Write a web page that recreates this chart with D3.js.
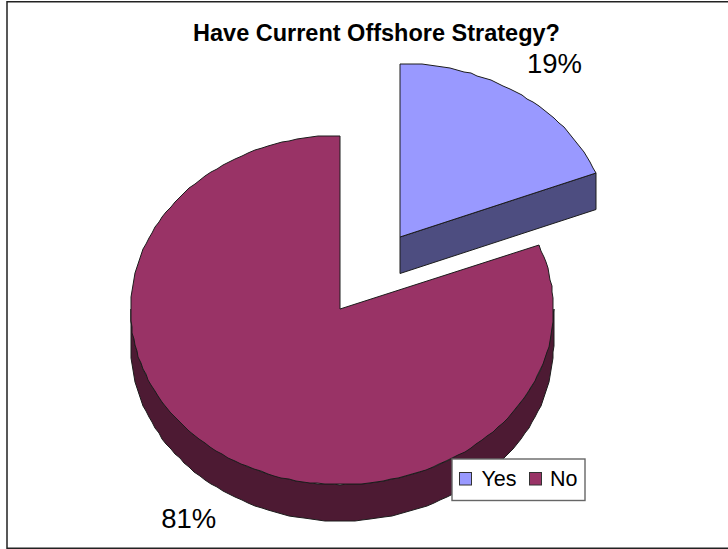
<!DOCTYPE html>
<html>
<head>
<meta charset="utf-8">
<script src="https://cdn.jsdelivr.net/npm/d3@7"></script>
<style>
html,body{margin:0;padding:0;background:#fff}
svg{display:block}
text{font-family:"Liberation Sans",Arial,sans-serif;fill:#000}
</style>
</head>
<body>
<svg id="chart" width="728" height="549"></svg>
<script>
const categories = ["Yes", "No"];
const shares = [19, 81];
const topColors = ["#9999ff", "#993366"];
const sideColors = ["#4d4d80", "#4d1a33"];
const chartTitle = "Have Current Offshore Strategy?";

const svg = d3.select("#chart");

// Frame: left, top and bottom rules run to the page edge
svg.append("path").attr("d", "M728,1.7H7V548.3H728")
  .attr("fill", "none").attr("stroke", "#222").attr("stroke-width", 1.5);

// Tilted-pie projection: clockwise angle from twelve o'clock onto a slightly
// uneven ellipse around each slice's apex
const vx = 340, vy = 309, depth = 36.5;
const offsets = [[60, -72], [0, 0]];
const rightReach = [211, 213.5];
const ey = d3.scaleLinear().domain([-1, 0, 1]).range([-173.5, 0, 175.5]);
const rimPoint = (a, i, dz = 0) => {
  const ex = d3.scaleLinear().domain([-1, 0, 1]).range([-209.5, 0, rightReach[i]]);
  return [
    Math.round(vx + offsets[i][0] + ex(Math.sin(a))),
    Math.round(vy + offsets[i][1] + ey(-Math.cos(a)) + dz)
  ];
};
const line = d3.line();
// Rim is a fine, pixel-snapped polyline
const arcSamples = (a0, a1, i, dz = 0) => {
  const n = Math.max(2, Math.ceil(Math.abs(a1 - a0) / 0.035));
  return d3.range(n + 1).map(k => rimPoint(a0 + (a1 - a0) * k / n, i, dz));
};

const slices = d3.pie().sort(null).value(d => d)(shares);
const edge = "#1c1c1c";

[1, 0].forEach(i => {
  const s = slices[i];
  const apex = [vx + offsets[i][0], vy + offsets[i][1]];
  const g = svg.append("g").attr("stroke", edge).attr("stroke-width", 1).attr("stroke-linejoin", "round");

  // Outer wall: only the part of the rim facing the viewer
  const a0 = Math.max(s.startAngle, Math.PI / 2);
  const a1 = Math.min(s.endAngle, 3 * Math.PI / 2);
  if (a1 > a0) {
    g.append("path")
      .attr("d", line(arcSamples(a0, a1, i).concat(arcSamples(a1, a0, i, depth))) + "Z")
      .attr("fill", sideColors[i]);
  }

  // Cut face along the leading edge of the detached slice
  if (i === 0) {
    const e = rimPoint(s.endAngle, i);
    const face = [apex, e, [e[0], e[1] + depth], [apex[0], apex[1] + depth]];
    g.append("path").attr("d", line(face) + "Z").attr("fill", sideColors[i]);
  }

  // Top face
  const rim = arcSamples(s.startAngle, s.endAngle, i);
  g.append("path").attr("d", line([apex].concat(rim)) + "Z").attr("fill", topColors[i]);
});

svg.append("text").attr("x", 376.5).attr("y", 40.5).attr("text-anchor", "middle")
  .attr("font-size", 23.5).attr("font-weight", "bold").text(chartTitle);

const labelPos = [[554.5, 72.5], [188.7, 528]];
shares.forEach((v, i) => {
  svg.append("text").attr("x", labelPos[i][0]).attr("y", labelPos[i][1])
    .attr("text-anchor", "middle").attr("font-size", 27.5).text(v + "%");
});

// Legend box over the lower right of the pie
const legend = svg.append("g").attr("transform", "translate(452,459)");
legend.append("rect").attr("width", 133).attr("height", 41.5)
  .attr("fill", "#fff").attr("stroke", "#666").attr("stroke-width", 1.4);
const swatchX = [7.5, 77.5];
const legendTextX = [29.5, 98];
categories.forEach((c, i) => {
  legend.append("rect").attr("x", swatchX[i]).attr("y", 13.5).attr("width", 12).attr("height", 12.5)
    .attr("fill", topColors[i]).attr("stroke", "#333").attr("stroke-width", 1);
  legend.append("text").attr("x", legendTextX[i]).attr("y", 26.5).attr("font-size", 21.5).text(c);
});
</script>
</body>
</html>
